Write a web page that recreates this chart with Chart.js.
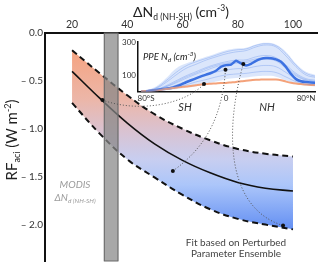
<!DOCTYPE html>
<html>
<head>
<meta charset="utf-8">
<script src="https://cdn.jsdelivr.net/npm/chart.js@4"></script>
<style>
  html, body { margin: 0; padding: 0; background: #fff; }
  #wrap { position: relative; width: 320px; height: 269px; }
  #wrap canvas { position: absolute; left: 0; top: 0; }
</style>
</head>
<body>
<div id="wrap">
  <canvas id="main" width="320" height="269"></canvas>
  <canvas id="inset" width="320" height="269"></canvas>
</div>
<script>
// main panel: RFaci fit vs delta Nd
const xFit = [20, 30, 40, 50, 60, 70, 80, 90, 100];
const rfMean = [-0.40, -0.68, -0.94, -1.16, -1.33, -1.46, -1.56, -1.62, -1.65];
const rfUpper = [-0.18, -0.42, -0.65, -0.85, -1.00, -1.12, -1.21, -1.26, -1.29];
const rfLower = [-0.73, -1.05, -1.32, -1.51, -1.69, -1.84, -1.94, -2.00, -2.05];
const modisRange = [31.5, 36.8];
const xTicks = [20, 40, 60, 80, 100];
const yTicks = [0, -0.5, -1, -1.5, -2];
const yTickLabels = ['0.0', '\u2013 0.5', '\u2013 1.0', '\u2013 1.5', '\u2013 2.0'];

// inset: zonal mean Nd of the ensemble
const lat = [-85, -80, -75, -70, -65, -60, -55, -50, -45, -40, -35, -30, -25, -20, -15, -10, -5, 0,
             5, 10, 15, 20, 25, 30, 35, 40, 45, 50, 55, 60, 65, 70, 75, 80, 85, 90];
const ndMean = [0, 2, 5, 9, 13, 17, 21, 30, 42, 56, 68, 80, 92, 102, 112, 126, 150, 160,
                163, 186, 170, 158, 168, 186, 198, 203, 202, 195, 180, 148, 106, 75, 62, 57, 54, 52];
const ndPre = [0, 2, 4, 7, 11, 15, 19, 23, 27, 31, 34, 38, 42, 45, 47, 49, 51, 52,
               55, 58, 62, 65, 68, 71, 72, 73, 73, 72, 68, 60, 53, 48, 45, 42, 40, 39];
const latCoarse = [-80, -70, -60, -50, -40, -30, -20, -10, 0, 10, 20, 30, 40, 50, 60, 70, 80, 90];
const ndHigh = [5, 30, 80, 140, 170, 190, 210, 230, 250, 260, 265, 285, 295, 285, 240, 170, 120, 100];
const ndLow = [1, 4, 8, 14, 22, 32, 45, 60, 75, 82, 85, 92, 95, 90, 66, 45, 35, 30];
const members = [
  [3, 18, 55, 100, 140, 165, 190, 210, 228, 240, 248, 270, 282, 270, 215, 150, 100, 85],
  [2, 12, 35, 65, 95, 120, 145, 165, 180, 190, 192, 210, 218, 205, 160, 110, 78, 68],
  [1, 8, 20, 38, 60, 82, 100, 118, 130, 138, 140, 152, 158, 150, 115, 78, 58, 50],
  [4, 22, 65, 115, 155, 180, 200, 220, 240, 252, 258, 280, 290, 278, 230, 160, 110, 92],
  [1, 6, 14, 25, 40, 58, 72, 88, 100, 106, 110, 118, 122, 115, 88, 60, 45, 40],
  [2, 10, 28, 52, 80, 105, 128, 150, 165, 172, 176, 188, 195, 185, 140, 95, 68, 58],
  [2, 11, 30, 58, 88, 112, 138, 158, 172, 180, 184, 198, 206, 196, 150, 102, 72, 62]
];
const insetXTicks = [-80, 0, 80];
const insetXLabels = ['80\u00b0S', '0', '80\u00b0N'];
const insetYTicks = [100, 300];

// dotted links: main point (dNd, RF) -> inset point (lat, Nd), control points in main units
const links = [
  { main: [31, -0.70], c1: [44.6, -0.84], c2: [60.9, -0.74], inset: [-22, 45] },
  { main: [56.5, -1.44], c1: [68.1, -1.20], c2: [74.3, -0.89], inset: [-0.5, 132] },
  { main: [96.4, -2.01], c1: [75.4, -1.82], c2: [75.4, -1.0], inset: [17.3, 167] }
];

const FONT = 'Lato, "Open Sans", sans-serif';

function pts(xs, ys) {
  return xs.map((x, i) => ({ x: x, y: ys[i] }));
}

// draw text made of pieces with sub/superscripts
function rich(ctx, parts, x, y, align, angle) {
  ctx.save();
  ctx.translate(x, y);
  if (angle) ctx.rotate(angle);
  const f = p => (p.it ? 'italic ' : '') + p.size + 'px ' + FONT;
  let w = 0;
  parts.forEach(p => { ctx.font = f(p); w += ctx.measureText(p.t).width; });
  let cx = align === 'center' ? -w / 2 : (align === 'right' ? -w : 0);
  ctx.textBaseline = 'alphabetic';
  ctx.textAlign = 'left';
  parts.forEach(p => {
    ctx.font = f(p);
    ctx.fillStyle = p.color || '#222';
    ctx.fillText(p.t, cx, p.dy || 0);
    cx += ctx.measureText(p.t).width;
  });
  ctx.restore();
}

function bandFill(context) {
  const chart = context.chart;
  const ca = chart.chartArea;
  if (!ca) return 'rgba(200,180,200,0.6)';
  const g = chart.ctx.createLinearGradient(0, 50, 0, 232);
  g.addColorStop(0, 'rgb(245,163,128)');
  g.addColorStop(0.27, 'rgb(236,182,168)');
  g.addColorStop(0.44, 'rgb(218,194,208)');
  g.addColorStop(0.6, 'rgb(200,206,240)');
  g.addColorStop(0.74, 'rgb(172,198,250)');
  g.addColorStop(1, 'rgb(95,140,242)');
  return g;
}

const mainDecor = {
  id: 'mainDecor',
  afterDatasetsDraw(chart) {
    const ctx = chart.ctx;
    const ca = chart.chartArea;
    const xs = chart.scales.x;
    // MODIS observed range
    const x0 = xs.getPixelForValue(modisRange[0]);
    const x1 = xs.getPixelForValue(modisRange[1]);
    ctx.save();
    ctx.fillStyle = 'rgba(135,135,135,0.72)';
    ctx.fillRect(x0, ca.top, x1 - x0, ca.bottom - ca.top);
    ctx.strokeStyle = '#6a6a6a';
    ctx.lineWidth = 1;
    ctx.strokeRect(x0 + 0.5, ca.top, x1 - x0 - 1, ca.bottom - ca.top);
    ctx.restore();
  },
  afterDraw(chart) {
    const ctx = chart.ctx;
    rich(ctx, [
      { t: '\u0394N', size: 14 },
      { t: 'd (NH-SH)', size: 8.5, dy: 3 },
      { t: ' (cm', size: 14 },
      { t: '-3', size: 8.5, dy: -6 },
      { t: ')', size: 14 }
    ], 181, 17, 'center');
    rich(ctx, [
      { t: 'RF', size: 15 },
      { t: 'aci', size: 9, dy: 3 },
      { t: ' (W m', size: 15 },
      { t: '-2', size: 9, dy: -6 },
      { t: ')', size: 15 }
    ], 17, 140, 'center', -Math.PI / 2);
    const grey = '#9c9c9c';
    rich(ctx, [{ t: 'MODIS', size: 10, it: true, color: grey }], 75, 188, 'center');
    rich(ctx, [
      { t: '\u0394N', size: 10, it: true, color: grey },
      { t: 'd (NH-SH)', size: 6.5, it: true, dy: 2, color: grey }
    ], 75, 201, 'center');
    rich(ctx, [{ t: 'Fit based on Perturbed', size: 10, color: '#444' }], 236, 246, 'center');
    rich(ctx, [{ t: 'Parameter Ensemble', size: 10, color: '#444' }], 236, 257, 'center');
  }
};

const mainChart = new Chart(document.getElementById('main').getContext('2d'), {
  type: 'line',
  data: {
    datasets: [
      { data: pts(xFit, rfUpper), borderColor: '#111', borderWidth: 2, borderDash: [6, 4],
        pointRadius: 0, fill: false, tension: 0.4 },
      { data: pts(xFit, rfLower), borderColor: '#111', borderWidth: 2, borderDash: [6, 4],
        pointRadius: 0, fill: '-1', backgroundColor: bandFill, tension: 0.4 },
      { data: pts(xFit, rfMean), borderColor: '#111', borderWidth: 1.6,
        pointRadius: 0, fill: false, tension: 0.4 }
    ]
  },
  options: {
    responsive: false,
    animation: false,
    layout: { padding: { top: 0, left: 0, right: 3, bottom: 4 } },
    plugins: {
      legend: { display: false },
      tooltip: { enabled: false },
      filler: { drawTime: 'beforeDatasetsDraw' }
    },
    scales: {
      x: {
        type: 'linear', position: 'top', min: 10.2, max: 108.7,
        afterFit(s) { s.height = 33; },
        afterBuildTicks(s) { s.ticks = xTicks.map(v => ({ value: v })); },
        grid: { display: false, drawTicks: false },
        border: { display: true, color: '#111', width: 2 },
        ticks: { color: '#333', font: { family: FONT, size: 10.5 }, padding: 2, maxRotation: 0 }
      },
      y: {
        type: 'linear', min: -2.38, max: 0,
        afterFit(s) { s.width = 45; },
        afterBuildTicks(s) { s.ticks = yTicks.map(v => ({ value: v })); },
        grid: { display: false, drawTicks: false },
        border: { display: true, color: '#111', width: 2 },
        ticks: { color: '#333', font: { family: FONT, size: 10 }, padding: 2,
                 callback: (v, i) => yTickLabels[i] }
      }
    }
  },
  plugins: [mainDecor]
});

const insetDecor = {
  id: 'insetDecor',
  afterDraw(chart) {
    const ctx = chart.ctx;
    rich(ctx, [
      { t: 'PPE N', size: 9.5, it: true },
      { t: 'd', size: 6.5, it: true, dy: 2 },
      { t: ' (cm', size: 9.5, it: true },
      { t: '-3', size: 6.5, it: true, dy: -4 },
      { t: ')', size: 9.5, it: true }
    ], 143, 60, 'left');
    rich(ctx, [{ t: 'SH', size: 11, it: true, color: '#333' }], 185, 111, 'center');
    rich(ctx, [{ t: 'NH', size: 11, it: true, color: '#333' }], 267, 111, 'center');

    // dotted links between the fit and the inset
    const mx = mainChart.scales.x, my = mainChart.scales.y;
    const ix = chart.scales.x, iy = chart.scales.y;
    ctx.save();
    links.forEach(l => {
      const p0 = [mx.getPixelForValue(l.main[0]), my.getPixelForValue(l.main[1])];
      const c1 = [mx.getPixelForValue(l.c1[0]), my.getPixelForValue(l.c1[1])];
      const c2 = [mx.getPixelForValue(l.c2[0]), my.getPixelForValue(l.c2[1])];
      const p1 = [ix.getPixelForValue(l.inset[0]), iy.getPixelForValue(l.inset[1])];
      ctx.strokeStyle = '#555';
      ctx.lineWidth = 1;
      ctx.setLineDash([1, 2]);
      ctx.beginPath();
      ctx.moveTo(p0[0], p0[1]);
      ctx.bezierCurveTo(c1[0], c1[1], c2[0], c2[1], p1[0], p1[1]);
      ctx.stroke();
      ctx.setLineDash([]);
      ctx.fillStyle = '#111';
      [p0, p1].forEach(p => {
        ctx.beginPath();
        ctx.arc(p[0], p[1], 2, 0, Math.PI * 2);
        ctx.fill();
      });
    });
    ctx.restore();
  }
};

const memberSets = members.map(m => ({
  data: pts(latCoarse, m), borderColor: 'rgba(80,130,232,0.38)', borderWidth: 0.8,
  pointRadius: 0, fill: false, tension: 0.4
}));

new Chart(document.getElementById('inset').getContext('2d'), {
  type: 'line',
  data: {
    datasets: [
      { data: pts(latCoarse, ndHigh), borderWidth: 0, borderColor: 'rgba(0,0,0,0)',
        pointRadius: 0, fill: false, tension: 0.4 },
      { data: pts(latCoarse, ndLow), borderWidth: 0, borderColor: 'rgba(0,0,0,0)',
        pointRadius: 0, fill: '-1', backgroundColor: 'rgba(115,160,240,0.26)', tension: 0.4 }
    ].concat(memberSets).concat([
      { data: pts(lat, ndPre), borderColor: 'rgb(244,162,122)', borderWidth: 2,
        pointRadius: 0, fill: false, tension: 0.3 },
      { data: pts(lat, ndMean), borderColor: 'rgb(58,112,225)', borderWidth: 2.5,
        pointRadius: 0, fill: false, tension: 0.2 }
    ])
  },
  options: {
    responsive: false,
    animation: false,
    layout: { padding: { top: 42, left: 120, right: 5, bottom: 165.5 } },
    plugins: {
      legend: { display: false },
      tooltip: { enabled: false },
      filler: { drawTime: 'beforeDatasetsDraw' }
    },
    scales: {
      x: {
        type: 'linear', min: -88, max: 89,
        afterFit(s) { s.height = 12; },
        afterBuildTicks(s) { s.ticks = insetXTicks.map(v => ({ value: v })); },
        grid: { display: false, drawTicks: false },
        border: { display: true, color: '#111', width: 1.5 },
        ticks: { color: '#333', font: { family: FONT, size: 8 }, padding: 2, maxRotation: 0,
                 callback: (v, i) => insetXLabels[i] }
      },
      y: {
        type: 'linear', min: 0, max: 300,
        afterFit(s) { s.width = 18; },
        afterBuildTicks(s) { s.ticks = insetYTicks.map(v => ({ value: v })); },
        grid: { display: false, drawTicks: false },
        border: { display: true, color: '#111', width: 1.5 },
        ticks: { color: '#333', font: { family: FONT, size: 8 }, padding: 2 }
      }
    }
  },
  plugins: [insetDecor]
});
</script>
</body>
</html>
